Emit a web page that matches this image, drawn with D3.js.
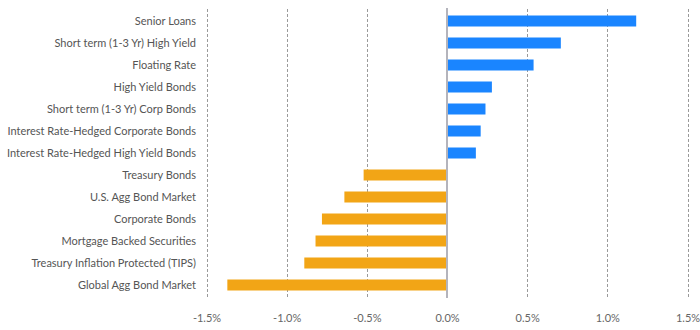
<!DOCTYPE html>
<html><head><meta charset="utf-8">
<script src="https://cdn.jsdelivr.net/npm/d3@7"></script>
<style>body{margin:0;background:#fff;} svg{display:block;}</style>
</head><body>
<svg id="chart" width="700" height="330"></svg>
<script>
const categories = ["Senior Loans","Short term (1-3 Yr) High Yield","Floating Rate","High Yield Bonds","Short term (1-3 Yr) Corp Bonds","Interest Rate-Hedged Corporate Bonds","Interest Rate-Hedged High Yield Bonds","Treasury Bonds","U.S. Agg Bond Market","Corporate Bonds","Mortgage Backed Securities","Treasury Inflation Protected (TIPS)","Global Agg Bond Market"];
const values = [1.18,0.71,0.54,0.28,0.24,0.21,0.18,-0.52,-0.64,-0.78,-0.82,-0.89,-1.37];
const tickValues = [-1.5,-1.0,-0.5,0.0,0.5,1.0,1.5];
const tickLabels = ["-1.5%","-1.0%","-0.5%","0.0%","0.5%","1.0%","1.5%"];

const svg = d3.select("#chart");
const font = "Lato, 'Open Sans', sans-serif";
const x = d3.scaleLinear().domain([-1.5,1.5]).range([206.5,687.5]);
const y = d3.scaleBand().domain(categories).range([10,296]).paddingInner(0.5).paddingOuter(0.25);

// gridlines
svg.append("g").selectAll("line").data(tickValues.filter(v=>v!==0)).join("line")
  .attr("x1",d=>Math.round(x(d))+0.5).attr("x2",d=>Math.round(x(d))+0.5)
  .attr("y1",9).attr("y2",298)
  .attr("stroke","#9a9a9a").attr("stroke-width",1).attr("stroke-dasharray","3,2");

// bars
svg.append("g").selectAll("rect").data(values).join("rect")
  .attr("x",d=>x(Math.min(0,d))).attr("width",d=>Math.abs(x(d)-x(0)))
  .attr("y",(d,i)=>y(categories[i])).attr("height",y.bandwidth())
  .attr("fill",d=>d>=0?"#1a85ff":"#f2a516");

// zero line
svg.append("line").attr("x1",x(0)).attr("x2",x(0)).attr("y1",8).attr("y2",298)
  .attr("stroke","#b4b4bc").attr("stroke-width",2);

// category labels
svg.append("g").selectAll("text").data(categories).join("text")
  .attr("x",196).attr("y",d=>y(d)+y.bandwidth()/2).attr("dy","0.35em")
  .attr("text-anchor","end").attr("font-family",font).attr("font-size",11)
  .attr("fill","#555").text(d=>d);

// x axis labels
const xAxis = d3.axisBottom(x).tickValues(tickValues).tickFormat((d,i)=>tickLabels[i]).tickSize(0).tickPadding(0);
const ax = svg.append("g").attr("transform","translate(0,314)").call(xAxis);
ax.select(".domain").remove();
ax.selectAll("text").attr("font-family",font).attr("font-size",11).attr("fill","#666");
</script>
</body></html>
